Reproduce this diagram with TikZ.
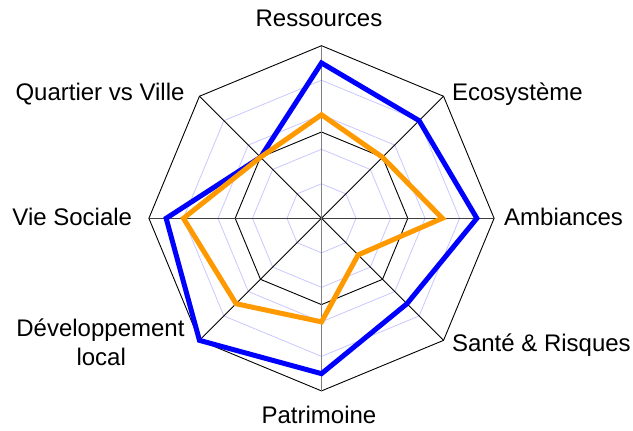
\documentclass[tikz,border=0pt]{standalone}
\usepackage{fontspec}
\setmainfont{Liberation Sans}
\definecolor{serieA}{RGB}{0,0,255}
\definecolor{serieB}{RGB}{255,153,0}
\definecolor{ringblue}{RGB}{200,200,255}
\begin{document}
\begin{tikzpicture}[x=1bp,y=1bp,
  ring/.style={draw=ringblue,line width=0.8bp},
  blackring/.style={draw=black,line width=0.9bp,line join=miter},
  spokeV/.style={draw=black!50,line width=1.6bp},
  spokeH/.style={draw=black!75,line width=1.1bp},
  spokeD/.style={draw=black,line width=0.8bp},
  datA/.style={draw=serieA,line width=5bp,line join=miter},
  datB/.style={draw=serieB,line width=5bp,line join=miter},
  lab/.style={inner sep=0pt,font=\fontsize{24bp}{29bp}\selectfont}]
\useasboundingbox (0,0) rectangle (633,430);
\def\R{172.6}
\begin{scope}[shift={(321.5,211.7)}]
  \coordinate (O) at (0,0);
  \foreach \f in {0.2,0.4,0.6,0.8}
    \draw[ring] (0:\f*\R) \foreach \a in {45,90,...,315}{ -- (\a:\f*\R)} -- cycle;
  \foreach \f in {0.5,1.0}
    \draw[blackring] (0:\f*\R) \foreach \a in {45,90,...,315}{ -- (\a:\f*\R)} -- cycle;
  \foreach \a in {45,135,225,315}
    \draw[spokeD] (O) -- (\a:\R);
  \draw[spokeH] (180:\R) -- (0:\R);
  \draw[spokeV] (-90:\R) -- (90:\R);
  \draw[datA] (90:0.9*\R) -- (45:0.8*\R) -- (0:0.9*\R) -- (-45:0.7*\R) -- (-90:0.9*\R) -- (-135:1.0*\R) -- (180:0.9*\R) -- (135:0.5*\R) -- cycle;
  \draw[datB] (90:0.6*\R) -- (45:0.5*\R) -- (0:0.7*\R) -- (-45:0.3*\R) -- (-90:0.6*\R) -- (-135:0.7*\R) -- (180:0.8*\R) -- (135:0.5*\R) -- cycle;
\end{scope}
\node[lab,anchor=base] (res) at (319,403.3) {Ressources};
\node[lab,anchor=base east] (qv) at (184.7,329.3) {Quartier vs Ville};
\node[lab,anchor=base west] (eco) at (451.8,329.3) {Ecosystème};
\node[lab,anchor=base east] (vs) at (132.3,204.3) {Vie Sociale};
\node[lab,anchor=base west] (amb) at (504,204.3) {Ambiances};
\node[lab,anchor=base west] (sr) at (451.8,79) {Santé \& Risques};
\node[lab,anchor=base east] (dev) at (184.7,94) {Développement};
\node[lab,anchor=base] (loc) at (101.2,64.3) {local};
\node[lab,anchor=base] (pat) at (319,6.7) {Patrimoine};
\end{tikzpicture}
\end{document}
